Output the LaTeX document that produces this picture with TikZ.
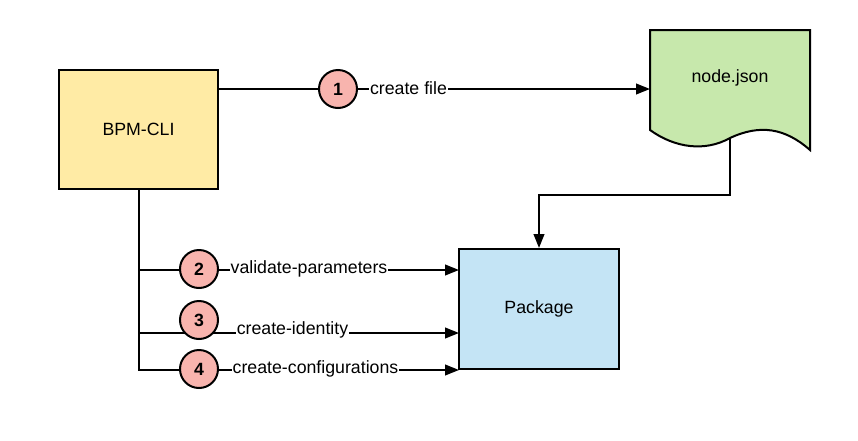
\documentclass[tikz,border=0pt]{standalone}
\usepackage{fontspec}
\setmainfont{Liberation Sans}
\usetikzlibrary{arrows.meta,calc}
\definecolor{cliyellow}{RGB}{255,235,165}
\definecolor{docgreen}{RGB}{199,232,172}
\definecolor{pkgblue}{RGB}{196,228,245}
\definecolor{stepred}{RGB}{248,180,174}
\tikzset{
  box/.style={draw=black, line width=1.5pt, minimum width=119.5pt, minimum height=89.5pt, inner sep=0pt, font=\fontsize{13.3}{16}\selectfont},
  stepcircle/.style={circle, draw=black, line width=1.5pt, fill=stepred, minimum size=28.5pt, inner sep=0pt, font=\fontsize{13.3}{16}\selectfont\bfseries},
  conn/.style={line width=1.5pt, draw=black},
  arrowconn/.style={conn, -{Triangle[length=10.5pt,width=8pt]}},
  lbl/.style={fill=white, inner xsep=0.5pt, inner ysep=1pt, font=\fontsize{13.3}{16}\selectfont}
}
\begin{document}
\begin{tikzpicture}[x=0.75pt,y=-0.75pt]
\useasboundingbox (0,0) rectangle (858,440);
% nodes
\node[box, fill=cliyellow] (cli) at (138.5,129.5) {BPM-CLI};
\node[box, fill=pkgblue, minimum width=120pt, minimum height=90pt] (pkg) at (539,309) {Package};
\draw[line width=1.5pt, fill=docgreen] (650,30) -- (810,30) -- (810,150)
  .. controls (785,128) and (760,124) .. (730,138)
  .. controls (705,152) and (675,148) .. (650,130) -- cycle;
\node[font=\fontsize{13.3}{16}\selectfont] (doc) at (730,78) {node.json};
\coordinate (docw) at (650,89);
\coordinate (docb) at (730,138);
\coordinate (p2) at (459,270);
\coordinate (p3) at (459,333);
\coordinate (p4) at (459,370);
\coordinate (c1pos) at (338,89);
% connectors
\draw[arrowconn] (cli.north east |- c1pos) -- (docw);
\draw[arrowconn] (docb) -- ++(0,57) -| (pkg.north);
\draw[arrowconn] (cli.south) |- (p4);
\draw[arrowconn] (cli.south |- p2) -- (p2);
\draw[arrowconn] (cli.south |- p3) -- (p3);
% step circles
\node[stepcircle] (c1) at (c1pos) {1};
\node[stepcircle] (c2) at (199,269) {2};
\node[stepcircle] (c3) at (199,320) {3};
\node[stepcircle] (c4) at (199,369) {4};
% labels
\node[lbl] (l1) at (408.5,88) {create file};
\node[lbl] (l2) at (309,269) {validate-parameters};
\node[lbl] (l3) at (292.5,330) {create-identity};
\node[lbl] (l4) at (315.5,369) {create-configurations};
\end{tikzpicture}
\end{document}
